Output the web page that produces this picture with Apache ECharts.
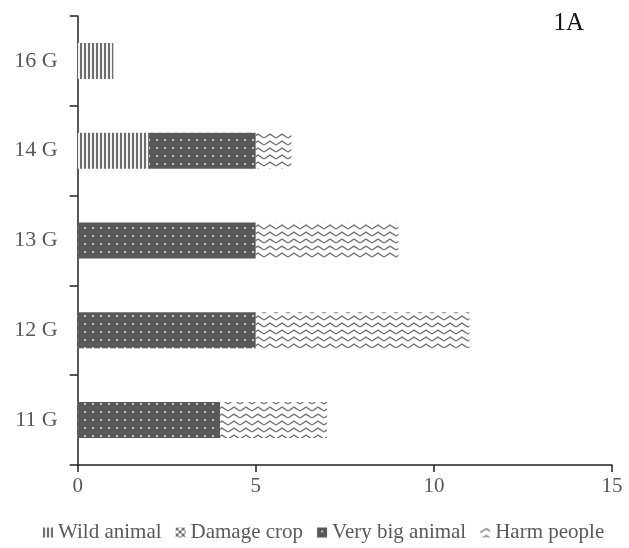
<!DOCTYPE html>
<html>
<head>
<meta charset="utf-8">
<script src="https://cdn.jsdelivr.net/npm/echarts@6/dist/echarts.min.js"></script>
<style>html,body{margin:0;padding:0;background:#fff}#c{width:629px;height:548px}</style>
</head>
<body>
<div id="c"></div>
<script>
var categories = ['11 G', '12 G', '13 G', '14 G', '16 G'];
var seriesNames = ['Wild animal', 'Damage crop', 'Very big animal', 'Harm people'];
var wildAnimal = [0, 0, 0, 2, 1];
var damageCrop = [0, 0, 0, 0, 0];
var veryBigAnimal = [4, 5, 5, 3, 0];
var harmPeople = [3, 6, 4, 1, 0];
var xTicks = [0, 5, 10, 15];

function tile(w, h, draw) {
  var c = document.createElement('canvas');
  c.width = w; c.height = h;
  var ctx = c.getContext('2d');
  draw(ctx, w, h);
  return { image: c, repeat: 'repeat' };
}
var stripes = tile(4, 4, function (ctx, w, h) {
  ctx.fillStyle = '#f2f2f2'; ctx.fillRect(0, 0, w, h);
  ctx.fillStyle = '#6e6e6e'; ctx.fillRect(0, 0, 2, h);
});
var checker = tile(6, 6, function (ctx, w, h) {
  ctx.fillStyle = '#ffffff'; ctx.fillRect(0, 0, w, h);
  ctx.fillStyle = '#6e6e6e'; ctx.fillRect(0, 0, 3, 3); ctx.fillRect(3, 3, 3, 3);
});
var dots = tile(8, 8, function (ctx, w, h) {
  ctx.fillStyle = '#595959'; ctx.fillRect(0, 0, w, h);
  ctx.fillStyle = '#c8c8c8'; ctx.fillRect(4, 3, 2, 2);
});
var zigzag = tile(12, 7, function (ctx, w, h) {
  ctx.fillStyle = '#ffffff'; ctx.fillRect(0, 0, w, h);
  ctx.strokeStyle = '#737373'; ctx.lineWidth = 1.4;
  ctx.beginPath(); ctx.moveTo(0, 5); ctx.lineTo(6, 1.2); ctx.lineTo(12, 5); ctx.stroke();
});

var fontFam = '"Liberation Serif", "Times New Roman", serif';
var chart = echarts.init(document.getElementById('c'), null, { renderer: 'canvas' });
var data = [wildAnimal, damageCrop, veryBigAnimal, harmPeople];
var colors = [stripes, checker, dots, zigzag];
chart.setOption({
  animation: false,
  backgroundColor: '#ffffff',
  title: {
    text: '1A', right: 40, top: 6,
    textStyle: { fontFamily: fontFam, fontSize: 25, fontWeight: 'normal', color: '#111' }
  },
  grid: { left: 77.7, right: 17, top: 16, bottom: 83, containLabel: false },
  legend: {
    left: 38, top: 517, itemWidth: 10, itemHeight: 10, itemGap: 14,
    icon: 'rect',
    textStyle: { fontFamily: fontFam, fontSize: 21, color: '#595959' },
    data: seriesNames
  },
  xAxis: {
    type: 'value', min: xTicks[0], max: xTicks[xTicks.length - 1], interval: 5,
    splitLine: { show: false },
    axisLine: { show: true, lineStyle: { color: '#222', width: 1.5 } },
    axisTick: { show: true, length: 7, lineStyle: { color: '#222', width: 1.5 } },
    axisLabel: { fontFamily: fontFam, fontSize: 21, color: '#595959', margin: 11 }
  },
  yAxis: {
    type: 'category', data: categories,
    axisLine: { show: true, lineStyle: { color: '#222', width: 1.5 } },
    axisTick: { show: true, length: 8, lineStyle: { color: '#222', width: 1.5 } },
    axisLabel: { fontFamily: fontFam, fontSize: 22, color: '#595959', margin: 20 }
  },
  series: seriesNames.map(function (n, i) {
    return {
      name: n, type: 'bar', stack: 'total', barWidth: 36,
      data: data[i],
      itemStyle: { color: colors[i] }
    };
  })
});
</script>
</body>
</html>
